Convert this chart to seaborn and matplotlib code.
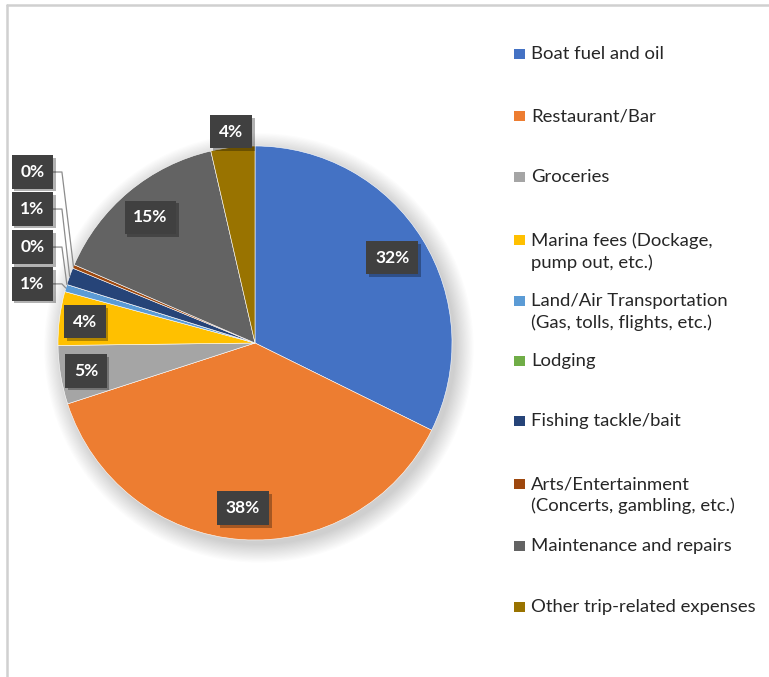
import numpy as np
import matplotlib
matplotlib.use("Agg")
import matplotlib.pyplot as plt
import matplotlib.patheffects as pe
from matplotlib.patches import Circle, Rectangle
from matplotlib.lines import Line2D
import seaborn as sns

categories = [
    "Boat fuel and oil",
    "Restaurant/Bar",
    "Groceries",
    "Marina fees (Dockage,\npump out, etc.)",
    "Land/Air Transportation\n(Gas, tolls, flights, etc.)",
    "Lodging",
    "Fishing tackle/bait",
    "Arts/Entertainment\n(Concerts, gambling, etc.)",
    "Maintenance and repairs",
    "Other trip-related expenses",
]
shares = [32.3, 37.7, 4.8, 4.4, 0.6, 0.0, 1.4, 0.3, 14.9, 3.6]
colors = ["#4472C4", "#ED7D31", "#A5A5A5", "#FFC000", "#5B9BD5",
          "#70AD47", "#264478", "#9E480E", "#636363", "#997300"]

sns.set_theme(style="white")
plt.rcParams["font.family"] = ["Lato", "DejaVu Sans"]
palette = sns.color_palette(colors)

W, H = 769, 677
fig = plt.figure(figsize=(W / 100, H / 100), dpi=100)
fig.patch.set_facecolor("white")

# chart border (left and top visible)
fig.add_artist(Line2D([7 / W, 7 / W], [0, 1 - 5 / H], color="#D0D0D0", lw=1.8,
                      transform=fig.transFigure))
fig.add_artist(Line2D([7 / W, 1], [1 - 5 / H, 1 - 5 / H], color="#D0D0D0", lw=1.8,
                      transform=fig.transFigure))

cx, cy, R = 255, 343, 197
half = 250
ax = fig.add_axes([(cx - half) / W, (H - cy - half) / H, 2 * half / W, 2 * half / H])
lim = half / R

# soft shadow behind pie
for i in range(16):
    ax.add_patch(Circle((0.02, -0.025), 1.0 + i * 0.006, color="black",
                        alpha=0.013, lw=0, zorder=0))

wedges, _ = ax.pie(shares, colors=palette, startangle=90, counterclock=False,
                   wedgeprops=dict(linewidth=0.4, edgecolor="white"),
                   radius=1.0)
for w in wedges:
    w.set_zorder(2)
ax.set_xlim(-lim, lim)
ax.set_ylim(-lim, lim)
ax.set_aspect("equal")
ax.axis("off")

box = dict(boxstyle="square,pad=0.5", facecolor="#404040", edgecolor="none")
shadow = [pe.SimplePatchShadow(offset=(2, -2), shadow_rgbFace="black", alpha=0.3),
          pe.Normal()]

def pct_text(v):
    return f"{v:.0f}%"

# inner labels: radial distance factor per slice (None = leader label)
dist = [0.82, 0.84, 0.87, 0.87, None, None, None, None, 0.83, 1.08]
leader_y = {4: 0.30, 5: 0.487, 6: 0.680, 7: 0.868}
leader_x = -1.13
for i, w in enumerate(wedges):
    th = np.deg2rad((w.theta1 + w.theta2) / 2)
    if dist[i] is not None:
        d = dist[i]
        t = ax.text(d * np.cos(th), d * np.sin(th), pct_text(shares[i]),
                    ha="center", va="center", color="white", fontsize=12.5,
                    fontweight="bold", bbox=box, zorder=5)
        t.get_bbox_patch().set_path_effects(shadow)
    else:
        ly = leader_y[i]
        t = ax.text(leader_x, ly, pct_text(shares[i]), ha="center", va="center",
                    color="white", fontsize=12.5, fontweight="bold", bbox=box, zorder=5)
        t.get_bbox_patch().set_path_effects(shadow)
        ex, ey = np.cos(th), np.sin(th)
        x0 = leader_x + 0.1
        xe = x0 + 0.05
        ax.plot([x0, xe, ex], [ly, ly, ey], color="#8C8C8C", lw=0.9, zorder=4)

# legend (manual, Excel-style spacing)
lx_sq, lx_txt = 520, 531
legend_y = [54, 116, 177, 240, 301, 361, 421, 484, 546, 607]
for lab, col, y in zip(categories, palette, legend_y):
    fig.add_artist(Rectangle(((lx_sq - 6) / W, 1 - (y + 5) / H), 11 / W, 10 / H,
                             facecolor=col, edgecolor="none", transform=fig.transFigure))
    fig.text(lx_txt / W, 1 - (y - 8) / H, lab, ha="left", va="top", fontsize=13.3,
             color="#262626", linespacing=1.4)

fig.savefig("out.png", dpi=100)
